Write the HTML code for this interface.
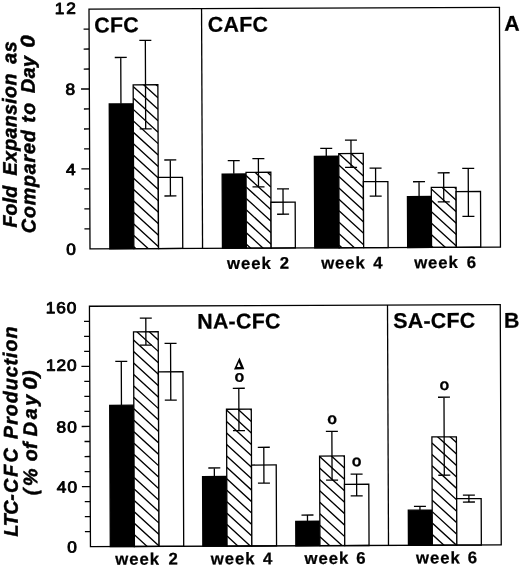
<!DOCTYPE html>
<html><head><meta charset="utf-8"><title>Figure</title>
<style>
html,body{margin:0;padding:0;background:#fff;}
body{width:520px;height:566px;overflow:hidden;}
svg{display:block;will-change:transform;}
svg text{text-rendering:geometricPrecision;font-family:"Liberation Sans",sans-serif;font-weight:bold;fill:#000;}
</style></head><body>
<svg width="520" height="566" viewBox="0 0 520 566">
<rect width="520" height="566" fill="#fff"/>
<g transform="rotate(-0.24 260 283)">
<rect x="110.00" y="103.30" width="24.00" height="144.82" fill="#000" stroke="#000" stroke-width="1.3"/>
<clipPath id="c1"><rect x="134.00" y="84.30" width="24.70" height="163.82"/></clipPath>
<rect x="134.00" y="84.30" width="24.70" height="163.82" fill="#fff" stroke="none"/>
<path d="M134.00 40.20L158.70 63.05M134.00 51.65L158.70 74.50M134.00 63.10L158.70 85.95M134.00 74.55L158.70 97.40M134.00 86.00L158.70 108.85M134.00 97.45L158.70 120.30M134.00 108.90L158.70 131.75M134.00 120.35L158.70 143.20M134.00 131.80L158.70 154.65M134.00 143.25L158.70 166.10M134.00 154.70L158.70 177.55M134.00 166.15L158.70 189.00M134.00 177.60L158.70 200.45M134.00 189.05L158.70 211.90M134.00 200.50L158.70 223.35M134.00 211.95L158.70 234.80M134.00 223.40L158.70 246.25M134.00 234.85L158.70 257.70M134.00 246.30L158.70 269.15M134.00 257.75L158.70 280.60M134.00 269.20L158.70 292.05" stroke="#000" stroke-width="1.35" fill="none" clip-path="url(#c1)"/>
<rect x="134.00" y="84.30" width="24.70" height="163.82" fill="none" stroke="#000" stroke-width="1.3"/>
<rect x="158.70" y="177.00" width="24.20" height="71.12" fill="#fff" stroke="#000" stroke-width="1.3"/>
<path d="M121.70 56.90L121.70 103.10M115.70 56.90L127.70 56.90" stroke="#000" stroke-width="1.3" fill="none"/>
<path d="M146.35 39.90L146.35 128.40M140.35 39.90L152.35 39.90M140.35 128.40L152.35 128.40" stroke="#000" stroke-width="1.3" fill="none"/>
<path d="M170.80 159.60L170.80 195.60M164.80 159.60L176.80 159.60M164.80 195.60L176.80 195.60" stroke="#000" stroke-width="1.3" fill="none"/>
<rect x="222.60" y="173.90" width="23.90" height="74.22" fill="#000" stroke="#000" stroke-width="1.3"/>
<clipPath id="c2"><rect x="246.50" y="172.30" width="24.80" height="75.82"/></clipPath>
<rect x="246.50" y="172.30" width="24.80" height="75.82" fill="#fff" stroke="none"/>
<path d="M246.50 129.65L271.30 152.59M246.50 141.10L271.30 164.04M246.50 152.55L271.30 175.49M246.50 164.00L271.30 186.94M246.50 175.45L271.30 198.39M246.50 186.90L271.30 209.84M246.50 198.35L271.30 221.29M246.50 209.80L271.30 232.74M246.50 221.25L271.30 244.19M246.50 232.70L271.30 255.64M246.50 244.15L271.30 267.09M246.50 255.60L271.30 278.54M246.50 267.05L271.30 289.99" stroke="#000" stroke-width="1.35" fill="none" clip-path="url(#c2)"/>
<rect x="246.50" y="172.30" width="24.80" height="75.82" fill="none" stroke="#000" stroke-width="1.3"/>
<rect x="271.30" y="202.30" width="24.20" height="45.82" fill="#fff" stroke="#000" stroke-width="1.3"/>
<path d="M234.25 160.50L234.25 173.70M228.25 160.50L240.25 160.50" stroke="#000" stroke-width="1.3" fill="none"/>
<path d="M258.90 158.60L258.90 186.80M252.90 158.60L264.90 158.60M252.90 186.80L264.90 186.80" stroke="#000" stroke-width="1.3" fill="none"/>
<path d="M283.40 189.00L283.40 214.30M277.40 189.00L289.40 189.00M277.40 214.30L289.40 214.30" stroke="#000" stroke-width="1.3" fill="none"/>
<rect x="314.90" y="156.60" width="24.40" height="91.52" fill="#000" stroke="#000" stroke-width="1.3"/>
<clipPath id="c3"><rect x="339.30" y="153.90" width="24.50" height="94.22"/></clipPath>
<rect x="339.30" y="153.90" width="24.50" height="94.22" fill="#fff" stroke="none"/>
<path d="M339.30 119.53L363.80 142.19M339.30 130.98L363.80 153.64M339.30 142.43L363.80 165.09M339.30 153.88L363.80 176.54M339.30 165.33L363.80 187.99M339.30 176.78L363.80 199.44M339.30 188.23L363.80 210.89M339.30 199.68L363.80 222.34M339.30 211.13L363.80 233.79M339.30 222.58L363.80 245.24M339.30 234.03L363.80 256.69M339.30 245.48L363.80 268.14M339.30 256.93L363.80 279.59M339.30 268.38L363.80 291.04" stroke="#000" stroke-width="1.35" fill="none" clip-path="url(#c3)"/>
<rect x="339.30" y="153.90" width="24.50" height="94.22" fill="none" stroke="#000" stroke-width="1.3"/>
<rect x="363.80" y="182.10" width="24.50" height="66.02" fill="#fff" stroke="#000" stroke-width="1.3"/>
<path d="M326.80 148.70L326.80 156.40M320.80 148.70L332.80 148.70" stroke="#000" stroke-width="1.3" fill="none"/>
<path d="M351.55 140.50L351.55 167.80M345.55 140.50L357.55 140.50M345.55 167.80L357.55 167.80" stroke="#000" stroke-width="1.3" fill="none"/>
<path d="M376.05 168.60L376.05 196.60M370.05 168.60L382.05 168.60M370.05 196.60L382.05 196.60" stroke="#000" stroke-width="1.3" fill="none"/>
<rect x="407.80" y="197.20" width="23.90" height="50.92" fill="#000" stroke="#000" stroke-width="1.3"/>
<clipPath id="c4"><rect x="431.70" y="188.15" width="24.80" height="59.97"/></clipPath>
<rect x="431.70" y="188.15" width="24.80" height="59.97" fill="#fff" stroke="none"/>
<path d="M431.70 143.80L456.50 166.74M431.70 155.25L456.50 178.19M431.70 166.70L456.50 189.64M431.70 178.15L456.50 201.09M431.70 189.60L456.50 212.54M431.70 201.05L456.50 223.99M431.70 212.50L456.50 235.44M431.70 223.95L456.50 246.89M431.70 235.40L456.50 258.34M431.70 246.85L456.50 269.79M431.70 258.30L456.50 281.24M431.70 269.75L456.50 292.69" stroke="#000" stroke-width="1.35" fill="none" clip-path="url(#c4)"/>
<rect x="431.70" y="188.15" width="24.80" height="59.97" fill="none" stroke="#000" stroke-width="1.3"/>
<rect x="456.50" y="192.45" width="24.40" height="55.67" fill="#fff" stroke="#000" stroke-width="1.3"/>
<path d="M419.45 182.40L419.45 197.00M413.45 182.40L425.45 182.40" stroke="#000" stroke-width="1.3" fill="none"/>
<path d="M444.10 173.55L444.10 202.65M438.10 173.55L450.10 173.55M438.10 202.65L450.10 202.65" stroke="#000" stroke-width="1.3" fill="none"/>
<path d="M468.70 169.30L468.70 217.30M462.70 169.30L474.70 169.30M462.70 217.30L474.70 217.30" stroke="#000" stroke-width="1.3" fill="none"/>
<rect x="90.15" y="8.35" width="410.45" height="239.77" fill="none" stroke="#000" stroke-width="1.3"/>
<path d="M202.70 8.35L202.70 248.12" stroke="#000" stroke-width="1.3"/>
<path d="M84.65 228.14L90.15 228.14M84.65 208.16L90.15 208.16M84.65 188.18L90.15 188.18M81.85 168.20L90.15 168.20M84.65 148.22L90.15 148.22M84.65 128.24L90.15 128.24M84.65 108.25L90.15 108.25M81.85 88.27L90.15 88.27M84.65 68.29L90.15 68.29M84.65 48.31L90.15 48.31M84.65 28.33L90.15 28.33" stroke="#000" stroke-width="1.3" fill="none"/>
<rect x="109.20" y="404.65" width="24.10" height="141.32" fill="#000" stroke="#000" stroke-width="1.3"/>
<clipPath id="c5"><rect x="133.30" y="331.35" width="24.70" height="214.62"/></clipPath>
<rect x="133.30" y="331.35" width="24.70" height="214.62" fill="#fff" stroke="none"/>
<path d="M133.30 293.75L158.00 316.60M133.30 305.20L158.00 328.05M133.30 316.65L158.00 339.50M133.30 328.10L158.00 350.95M133.30 339.55L158.00 362.40M133.30 351.00L158.00 373.85M133.30 362.45L158.00 385.30M133.30 373.90L158.00 396.75M133.30 385.35L158.00 408.20M133.30 396.80L158.00 419.65M133.30 408.25L158.00 431.10M133.30 419.70L158.00 442.55M133.30 431.15L158.00 454.00M133.30 442.60L158.00 465.45M133.30 454.05L158.00 476.90M133.30 465.50L158.00 488.35M133.30 476.95L158.00 499.80M133.30 488.40L158.00 511.25M133.30 499.85L158.00 522.70M133.30 511.30L158.00 534.15M133.30 522.75L158.00 545.60M133.30 534.20L158.00 557.05M133.30 545.65L158.00 568.50M133.30 557.10L158.00 579.95M133.30 568.55L158.00 591.40" stroke="#000" stroke-width="1.35" fill="none" clip-path="url(#c5)"/>
<rect x="133.30" y="331.35" width="24.70" height="214.62" fill="none" stroke="#000" stroke-width="1.3"/>
<rect x="158.00" y="371.45" width="24.60" height="174.52" fill="#fff" stroke="#000" stroke-width="1.3"/>
<path d="M120.95 360.85L120.95 404.45M114.95 360.85L126.95 360.85" stroke="#000" stroke-width="1.3" fill="none"/>
<path d="M145.65 317.65L145.65 344.65M139.65 317.65L151.65 317.65M139.65 344.65L151.65 344.65" stroke="#000" stroke-width="1.3" fill="none"/>
<path d="M170.30 342.95L170.30 399.75M164.30 342.95L176.30 342.95M164.30 399.75L176.30 399.75" stroke="#000" stroke-width="1.3" fill="none"/>
<rect x="201.75" y="476.30" width="24.20" height="69.67" fill="#000" stroke="#000" stroke-width="1.3"/>
<clipPath id="c6"><rect x="225.95" y="409.10" width="24.80" height="136.87"/></clipPath>
<rect x="225.95" y="409.10" width="24.80" height="136.87" fill="#fff" stroke="none"/>
<path d="M225.95 364.16L250.75 387.10M225.95 375.61L250.75 398.55M225.95 387.06L250.75 410.00M225.95 398.51L250.75 421.45M225.95 409.96L250.75 432.90M225.95 421.41L250.75 444.35M225.95 432.86L250.75 455.80M225.95 444.31L250.75 467.25M225.95 455.76L250.75 478.70M225.95 467.21L250.75 490.15M225.95 478.66L250.75 501.60M225.95 490.11L250.75 513.05M225.95 501.56L250.75 524.50M225.95 513.01L250.75 535.95M225.95 524.46L250.75 547.40M225.95 535.91L250.75 558.85M225.95 547.36L250.75 570.30M225.95 558.81L250.75 581.75" stroke="#000" stroke-width="1.35" fill="none" clip-path="url(#c6)"/>
<rect x="225.95" y="409.10" width="24.80" height="136.87" fill="none" stroke="#000" stroke-width="1.3"/>
<rect x="250.75" y="465.00" width="24.70" height="80.97" fill="#fff" stroke="#000" stroke-width="1.3"/>
<path d="M213.55 467.80L213.55 476.10M207.55 467.80L219.55 467.80" stroke="#000" stroke-width="1.3" fill="none"/>
<path d="M238.35 388.20L238.35 430.50M232.35 388.20L244.35 388.20M232.35 430.50L244.35 430.50" stroke="#000" stroke-width="1.3" fill="none"/>
<path d="M263.10 447.30L263.10 483.20M257.10 447.30L269.10 447.30M257.10 483.20L269.10 483.20" stroke="#000" stroke-width="1.3" fill="none"/>
<rect x="294.75" y="521.50" width="24.10" height="24.47" fill="#000" stroke="#000" stroke-width="1.3"/>
<clipPath id="c7"><rect x="318.85" y="456.30" width="24.80" height="89.67"/></clipPath>
<rect x="318.85" y="456.30" width="24.80" height="89.67" fill="#fff" stroke="none"/>
<path d="M318.85 410.95L343.65 433.89M318.85 422.40L343.65 445.34M318.85 433.85L343.65 456.79M318.85 445.30L343.65 468.24M318.85 456.75L343.65 479.69M318.85 468.20L343.65 491.14M318.85 479.65L343.65 502.59M318.85 491.10L343.65 514.04M318.85 502.55L343.65 525.49M318.85 514.00L343.65 536.94M318.85 525.45L343.65 548.39M318.85 536.90L343.65 559.84M318.85 548.35L343.65 571.29M318.85 559.80L343.65 582.74" stroke="#000" stroke-width="1.35" fill="none" clip-path="url(#c7)"/>
<rect x="318.85" y="456.30" width="24.80" height="89.67" fill="none" stroke="#000" stroke-width="1.3"/>
<rect x="343.65" y="484.70" width="24.30" height="61.27" fill="#fff" stroke="#000" stroke-width="1.3"/>
<path d="M306.50 515.20L306.50 521.30M300.50 515.20L312.50 515.20" stroke="#000" stroke-width="1.3" fill="none"/>
<path d="M331.25 431.70L331.25 480.40M325.25 431.70L337.25 431.70M325.25 480.40L337.25 480.40" stroke="#000" stroke-width="1.3" fill="none"/>
<path d="M355.80 474.50L355.80 496.30M349.80 474.50L361.80 474.50M349.80 496.30L361.80 496.30" stroke="#000" stroke-width="1.3" fill="none"/>
<rect x="407.35" y="510.80" width="23.90" height="35.17" fill="#000" stroke="#000" stroke-width="1.3"/>
<clipPath id="c8"><rect x="431.25" y="437.60" width="24.50" height="108.37"/></clipPath>
<rect x="431.25" y="437.60" width="24.50" height="108.37" fill="#fff" stroke="none"/>
<path d="M431.25 397.85L455.75 420.51M431.25 409.30L455.75 431.96M431.25 420.75L455.75 443.41M431.25 432.20L455.75 454.86M431.25 443.65L455.75 466.31M431.25 455.10L455.75 477.76M431.25 466.55L455.75 489.21M431.25 478.00L455.75 500.66M431.25 489.45L455.75 512.11M431.25 500.90L455.75 523.56M431.25 512.35L455.75 535.01M431.25 523.80L455.75 546.46M431.25 535.25L455.75 557.91M431.25 546.70L455.75 569.36M431.25 558.15L455.75 580.81" stroke="#000" stroke-width="1.35" fill="none" clip-path="url(#c8)"/>
<rect x="431.25" y="437.60" width="24.50" height="108.37" fill="none" stroke="#000" stroke-width="1.3"/>
<rect x="455.75" y="499.50" width="24.50" height="46.47" fill="#fff" stroke="#000" stroke-width="1.3"/>
<path d="M419.00 507.00L419.00 510.60M413.00 507.00L425.00 507.00" stroke="#000" stroke-width="1.3" fill="none"/>
<path d="M443.50 397.97L443.50 476.00M437.50 397.97L449.50 397.97M437.50 476.00L449.50 476.00" stroke="#000" stroke-width="1.3" fill="none"/>
<path d="M468.00 495.97L468.00 502.90M462.00 495.97L474.00 495.97M462.00 502.90L474.00 502.90" stroke="#000" stroke-width="1.3" fill="none"/>
<rect x="89.35" y="305.54" width="410.80" height="240.43" fill="none" stroke="#000" stroke-width="1.3"/>
<path d="M387.40 305.54L387.40 545.97" stroke="#000" stroke-width="1.3"/>
<path d="M83.85 530.94L89.35 530.94M83.85 515.92L89.35 515.92M83.85 500.89L89.35 500.89M81.05 485.86L89.35 485.86M83.85 470.84L89.35 470.84M83.85 455.81L89.35 455.81M83.85 440.78L89.35 440.78M81.05 425.75L89.35 425.75M83.85 410.73L89.35 410.73M83.85 395.70L89.35 395.70M83.85 380.67L89.35 380.67M81.05 365.65L89.35 365.65M83.85 350.62L89.35 350.62M83.85 335.59L89.35 335.59M83.85 320.57L89.35 320.57" stroke="#000" stroke-width="1.3" fill="none"/>
<text transform="translate(95.20,31.70)" font-size="21.4" text-anchor="start" letter-spacing="0.3" word-spacing="0" stroke="#000" stroke-width="0.25" stroke-linejoin="round">CFC</text>
<text transform="translate(208.80,31.60)" font-size="21.4" text-anchor="start" letter-spacing="0.3" word-spacing="0" stroke="#000" stroke-width="0.25" stroke-linejoin="round">CAFC</text>
<text transform="translate(505.20,31.70)" font-size="21.4" text-anchor="start" letter-spacing="0" word-spacing="0" stroke="#000" stroke-width="0.25" stroke-linejoin="round">A</text>
<text transform="translate(197.00,328.40)" font-size="21.4" text-anchor="start" letter-spacing="0.25" word-spacing="0" stroke="#000" stroke-width="0.25" stroke-linejoin="round">NA-CFC</text>
<text transform="translate(393.00,328.60)" font-size="21.4" text-anchor="start" letter-spacing="0.25" word-spacing="0" stroke="#000" stroke-width="0.25" stroke-linejoin="round">SA-CFC</text>
<text transform="translate(503.80,328.70)" font-size="21.4" text-anchor="start" letter-spacing="0" word-spacing="0" stroke="#000" stroke-width="0.25" stroke-linejoin="round">B</text>
<text transform="translate(77.00,13.05) scale(1.08,1)" font-size="16" text-anchor="end" letter-spacing="0" word-spacing="0" font-weight="normal" style="font-weight:normal" stroke="#000" stroke-width="0.85" stroke-linejoin="round">2</text>
<text transform="translate(65.39,13.05) scale(1.08,1)" font-size="16" text-anchor="end" letter-spacing="0" word-spacing="0" font-weight="normal" style="font-weight:normal" stroke="#000" stroke-width="0.85" stroke-linejoin="round">1</text>
<text transform="translate(76.00,94.00) scale(1.08,1)" font-size="16" text-anchor="end" letter-spacing="0" word-spacing="0" font-weight="normal" style="font-weight:normal" stroke="#000" stroke-width="0.85" stroke-linejoin="round">8</text>
<text transform="translate(76.00,174.10) scale(1.08,1)" font-size="16" text-anchor="end" letter-spacing="0" word-spacing="0" font-weight="normal" style="font-weight:normal" stroke="#000" stroke-width="0.85" stroke-linejoin="round">4</text>
<text transform="translate(76.00,253.82) scale(1.08,1)" font-size="16" text-anchor="end" letter-spacing="0" word-spacing="0" font-weight="normal" style="font-weight:normal" stroke="#000" stroke-width="0.85" stroke-linejoin="round">0</text>
<text transform="translate(76.20,312.44) scale(1.08,1)" font-size="16" text-anchor="end" letter-spacing="0" word-spacing="0" font-weight="normal" style="font-weight:normal" stroke="#000" stroke-width="0.85" stroke-linejoin="round">0</text>
<text transform="translate(65.69,312.44) scale(1.08,1)" font-size="16" text-anchor="end" letter-spacing="0" word-spacing="0" font-weight="normal" style="font-weight:normal" stroke="#000" stroke-width="0.85" stroke-linejoin="round">6</text>
<text transform="translate(55.18,312.44) scale(1.08,1)" font-size="16" text-anchor="end" letter-spacing="0" word-spacing="0" font-weight="normal" style="font-weight:normal" stroke="#000" stroke-width="0.85" stroke-linejoin="round">1</text>
<text transform="translate(76.20,369.85) scale(1.08,1)" font-size="16" text-anchor="end" letter-spacing="0" word-spacing="0" font-weight="normal" style="font-weight:normal" stroke="#000" stroke-width="0.85" stroke-linejoin="round">0</text>
<text transform="translate(65.69,369.85) scale(1.08,1)" font-size="16" text-anchor="end" letter-spacing="0" word-spacing="0" font-weight="normal" style="font-weight:normal" stroke="#000" stroke-width="0.85" stroke-linejoin="round">2</text>
<text transform="translate(55.18,369.85) scale(1.08,1)" font-size="16" text-anchor="end" letter-spacing="0" word-spacing="0" font-weight="normal" style="font-weight:normal" stroke="#000" stroke-width="0.85" stroke-linejoin="round">1</text>
<text transform="translate(76.20,431.65) scale(1.08,1)" font-size="16" text-anchor="end" letter-spacing="0" word-spacing="0" font-weight="normal" style="font-weight:normal" stroke="#000" stroke-width="0.85" stroke-linejoin="round">0</text>
<text transform="translate(65.39,431.65) scale(1.08,1)" font-size="16" text-anchor="end" letter-spacing="0" word-spacing="0" font-weight="normal" style="font-weight:normal" stroke="#000" stroke-width="0.85" stroke-linejoin="round">8</text>
<text transform="translate(76.20,491.76) scale(1.08,1)" font-size="16" text-anchor="end" letter-spacing="0" word-spacing="0" font-weight="normal" style="font-weight:normal" stroke="#000" stroke-width="0.85" stroke-linejoin="round">0</text>
<text transform="translate(65.39,491.76) scale(1.08,1)" font-size="16" text-anchor="end" letter-spacing="0" word-spacing="0" font-weight="normal" style="font-weight:normal" stroke="#000" stroke-width="0.85" stroke-linejoin="round">4</text>
<text transform="translate(75.70,551.67) scale(1.08,1)" font-size="16" text-anchor="end" letter-spacing="0" word-spacing="0" font-weight="normal" style="font-weight:normal" stroke="#000" stroke-width="0.85" stroke-linejoin="round">0</text>
<text transform="translate(227.10,268.90)" font-size="16.8" text-anchor="start" letter-spacing="0.9" word-spacing="0" stroke="#000" stroke-width="0.25" stroke-linejoin="round">week</text>
<text transform="translate(289.10,268.90)" font-size="16.8" text-anchor="end" letter-spacing="0" word-spacing="0" stroke="#000" stroke-width="0.25" stroke-linejoin="round">2</text>
<text transform="translate(321.20,268.90)" font-size="16.8" text-anchor="start" letter-spacing="0.9" word-spacing="0" stroke="#000" stroke-width="0.25" stroke-linejoin="round">week</text>
<text transform="translate(382.70,268.90)" font-size="16.8" text-anchor="end" letter-spacing="0" word-spacing="0" stroke="#000" stroke-width="0.25" stroke-linejoin="round">4</text>
<text transform="translate(414.20,268.90)" font-size="16.8" text-anchor="start" letter-spacing="0.9" word-spacing="0" stroke="#000" stroke-width="0.25" stroke-linejoin="round">week</text>
<text transform="translate(476.20,268.90)" font-size="16.8" text-anchor="end" letter-spacing="0" word-spacing="0" stroke="#000" stroke-width="0.25" stroke-linejoin="round">6</text>
<text transform="translate(114.10,564.20)" font-size="16.8" text-anchor="start" letter-spacing="0.9" word-spacing="0" stroke="#000" stroke-width="0.25" stroke-linejoin="round">week</text>
<text transform="translate(176.70,564.20)" font-size="16.8" text-anchor="end" letter-spacing="0" word-spacing="0" stroke="#000" stroke-width="0.25" stroke-linejoin="round">2</text>
<text transform="translate(209.60,564.20)" font-size="16.8" text-anchor="start" letter-spacing="0.9" word-spacing="0" stroke="#000" stroke-width="0.25" stroke-linejoin="round">week</text>
<text transform="translate(271.10,564.20)" font-size="16.8" text-anchor="end" letter-spacing="0" word-spacing="0" stroke="#000" stroke-width="0.25" stroke-linejoin="round">4</text>
<text transform="translate(303.40,564.20)" font-size="16.8" text-anchor="start" letter-spacing="0.9" word-spacing="0" stroke="#000" stroke-width="0.25" stroke-linejoin="round">week</text>
<text transform="translate(364.50,564.20)" font-size="16.8" text-anchor="end" letter-spacing="0" word-spacing="0" stroke="#000" stroke-width="0.25" stroke-linejoin="round">6</text>
<text transform="translate(414.90,564.20)" font-size="16.8" text-anchor="start" letter-spacing="0.9" word-spacing="0" stroke="#000" stroke-width="0.25" stroke-linejoin="round">week</text>
<text transform="translate(475.90,564.20)" font-size="16.8" text-anchor="end" letter-spacing="0" word-spacing="0" stroke="#000" stroke-width="0.25" stroke-linejoin="round">6</text>
<text transform="translate(238.90,381.60)" font-size="16" text-anchor="middle" letter-spacing="0" word-spacing="0" stroke="#000" stroke-width="0.25" stroke-linejoin="round">o</text>
<text transform="translate(331.60,424.40)" font-size="16" text-anchor="middle" letter-spacing="0" word-spacing="0" stroke="#000" stroke-width="0.25" stroke-linejoin="round">o</text>
<text transform="translate(355.90,466.70)" font-size="16" text-anchor="middle" letter-spacing="0" word-spacing="0" stroke="#000" stroke-width="0.25" stroke-linejoin="round">o</text>
<text transform="translate(444.00,390.80)" font-size="16" text-anchor="middle" letter-spacing="0" word-spacing="0" stroke="#000" stroke-width="0.25" stroke-linejoin="round">o</text>
<path d="M239.15 357.5L233.6 369.3L244.0 369.3ZM238.5 362.2L236.55 367.0L240.45 367.0Z" fill="#000" fill-rule="evenodd"/>
<text transform="translate(17.10,226.60) rotate(-90)" font-size="19.7" text-anchor="start" letter-spacing="0.1" word-spacing="0" font-style="italic" stroke="#000" stroke-width="0.5" stroke-linejoin="round">Fold</text>
<text transform="translate(17.10,174.50) rotate(-90)" font-size="19.7" text-anchor="start" letter-spacing="0.3" word-spacing="0" font-style="italic" stroke="#000" stroke-width="0.5" stroke-linejoin="round">Expansion</text>
<text transform="translate(17.10,62.80) rotate(-90)" font-size="19.7" text-anchor="start" letter-spacing="0.6" word-spacing="0" font-style="italic" stroke="#000" stroke-width="0.5" stroke-linejoin="round">as</text>
<text transform="translate(35.60,232.20) rotate(-90)" font-size="19.7" text-anchor="start" letter-spacing="0.8" word-spacing="0" font-style="italic" stroke="#000" stroke-width="0.5" stroke-linejoin="round">Compared</text>
<text transform="translate(35.60,121.80) rotate(-90)" font-size="19.7" text-anchor="start" letter-spacing="1.5" word-spacing="0" font-style="italic" stroke="#000" stroke-width="0.5" stroke-linejoin="round">to</text>
<text transform="translate(35.60,92.00) rotate(-90)" font-size="19.7" text-anchor="start" letter-spacing="0.4" word-spacing="0" font-style="italic" stroke="#000" stroke-width="0.5" stroke-linejoin="round">Day</text>
<text transform="translate(35.60,46.70) rotate(-90) scale(1.15,1)" font-size="19.7" text-anchor="start" letter-spacing="0" word-spacing="0" font-style="italic" stroke="#000" stroke-width="0.5" stroke-linejoin="round">0</text>
<text transform="translate(16.80,535.40) rotate(-90)" font-size="19.7" text-anchor="start" letter-spacing="-0.4" word-spacing="0" font-style="italic" stroke="#000" stroke-width="0.5" stroke-linejoin="round">LTC-</text>
<text transform="translate(16.80,492.10) rotate(-90)" font-size="19.7" text-anchor="start" letter-spacing="2.2" word-spacing="0" font-style="italic" stroke="#000" stroke-width="0.5" stroke-linejoin="round">CFC</text>
<text transform="translate(16.80,437.90) rotate(-90)" font-size="19.7" text-anchor="start" letter-spacing="0.95" word-spacing="0" font-style="italic" stroke="#000" stroke-width="0.5" stroke-linejoin="round">Production</text>
<text transform="translate(36.30,494.20) rotate(-90)" font-size="19.7" text-anchor="start" letter-spacing="2.5" word-spacing="0" font-style="italic" stroke="#000" stroke-width="0.5" stroke-linejoin="round">(%</text>
<text transform="translate(36.30,460.20) rotate(-90)" font-size="19.7" text-anchor="start" letter-spacing="0" word-spacing="0" font-style="italic" stroke="#000" stroke-width="0.5" stroke-linejoin="round">of</text>
<text transform="translate(36.30,435.20) rotate(-90)" font-size="19.7" text-anchor="start" letter-spacing="2.6" word-spacing="0" font-style="italic" stroke="#000" stroke-width="0.5" stroke-linejoin="round">Day</text>
<text transform="translate(36.30,388.80) rotate(-90) scale(1.15,1)" font-size="19.7" text-anchor="start" letter-spacing="0" word-spacing="0" font-style="italic" stroke="#000" stroke-width="0.5" stroke-linejoin="round">0</text>
<text transform="translate(36.30,376.00) rotate(-90)" font-size="19.7" text-anchor="start" letter-spacing="0" word-spacing="0" font-style="italic" stroke="#000" stroke-width="0.5" stroke-linejoin="round">)</text>
</g>
</svg>
</body></html>
